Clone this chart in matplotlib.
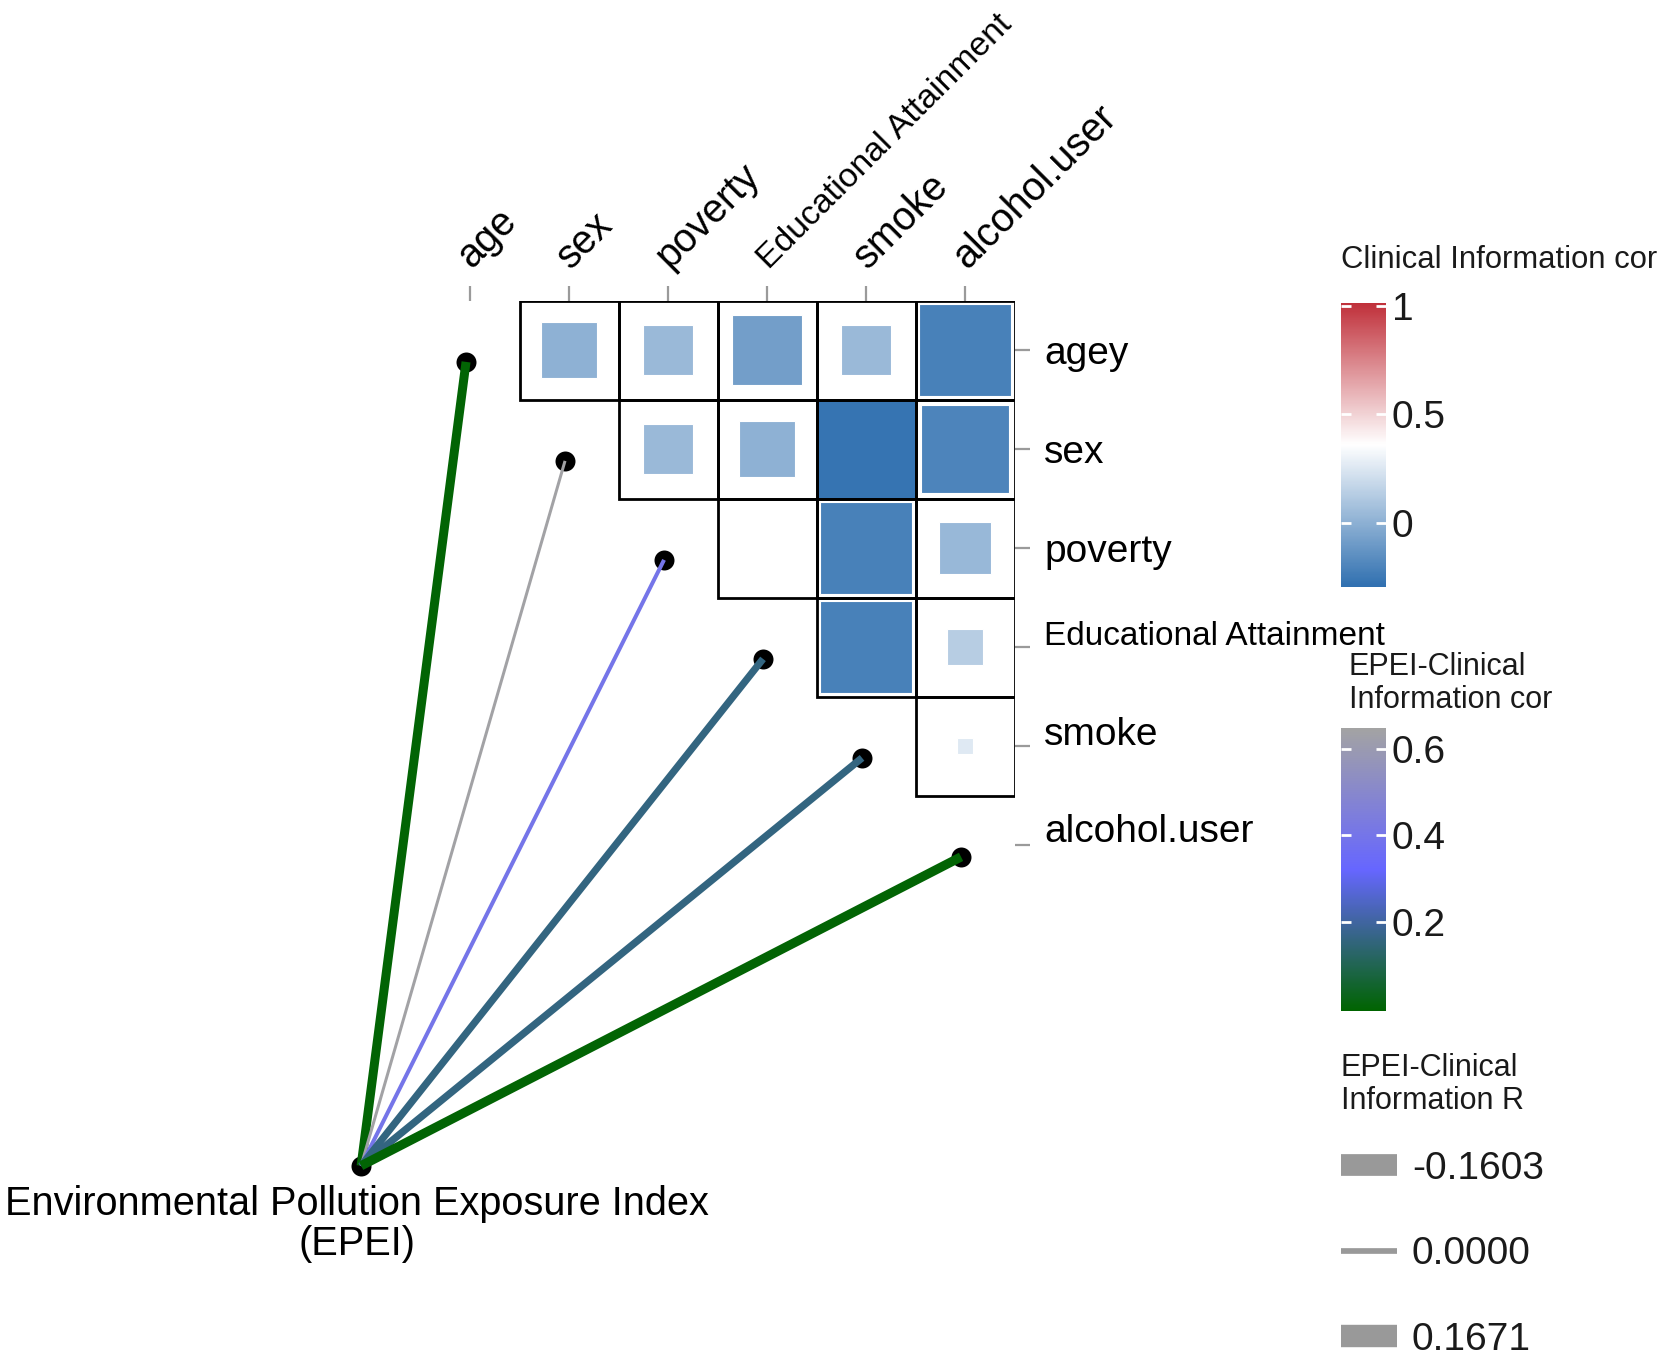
import numpy as np
import matplotlib
matplotlib.use("Agg")
import matplotlib.pyplot as plt
from matplotlib.colors import LinearSegmentedColormap, Normalize
from matplotlib.cm import ScalarMappable
from matplotlib.patches import Rectangle
from matplotlib.transforms import offset_copy

plt.rcParams["font.family"] = ["Liberation Sans", "DejaVu Sans"]

# ---- data -----------------------------------------------------------------
col_vars = ["age", "sex", "poverty", "Educational Attainment", "smoke", "alcohol.user"]
row_vars = ["agey", "sex", "poverty", "Educational Attainment", "smoke", "alcohol.user"]

# clinical information correlation, upper triangle (row index, column index)
clin_row = [0, 0, 0, 0, 0, 1, 1, 1, 1, 2, 2, 2, 3, 3, 4]
clin_col = [1, 2, 3, 4, 5, 2, 3, 4, 5, 3, 4, 5, 4, 5, 5]
clin_cor = [0.004, 0.042, -0.082, 0.042, -0.217,
            0.042, 0.004, -0.270, -0.198,
            0.360, -0.217, 0.035,
            -0.217, 0.130,
            0.260]

# EPEI -> clinical variable links
link_r = [-0.1603, 0.0, 0.027, 0.112, -0.115, 0.1671]
link_cor = [0.002, 0.640, 0.400, 0.160, 0.160, 0.002]

legend_r = [-0.1603, 0.0, 0.1671]
legend_labels = ["-0.1603", "0.0000", "0.1671"]

# ---- scales -----------------------------------------------------------------
clin_cmap = LinearSegmentedColormap.from_list("clin", ["#3070B0", "#FFFFFF", "#C0303A"])
clin_norm = Normalize(vmin=-0.295, vmax=1.015)
clin_mid = (clin_norm.vmin + clin_norm.vmax) / 2
clin_full = -0.265

link_cmap = LinearSegmentedColormap.from_list("link", ["#006400", "#6666FF", "#A3A3A3"])
link_norm = Normalize(vmin=-0.005, vmax=0.648)


def square_size(v):
    return float(np.clip((clin_mid - v) / (clin_mid - clin_full), 0, 1))


def link_width(r):
    return (3 + 37.5 * abs(r)) * 0.72


def key_width(r):
    return (5.7 + 100 * abs(r)) * 0.72


W, H = 1665, 1358
fig = plt.figure(figsize=(W / 100, H / 100), dpi=100)
txt = "#1a1a1a"

# ---- correlation grid -------------------------------------------------------
ax = fig.add_axes([420.5 / W, 1 - 894.5 / H, 594 / W, 594 / H])
ax.set_xlim(-0.5, 5.5)
ax.set_ylim(5.5, -0.5)
for s in ax.spines.values():
    s.set_visible(False)
ax.set_xticks(range(len(col_vars)))
ax.set_yticks(range(len(row_vars)))
ax.xaxis.tick_top()
ax.yaxis.tick_right()
ax.tick_params(axis="both", length=10.8, width=1.6, color="#9a9a9a",
               labeltop=False, labelright=False, labelbottom=False, labelleft=False)

for r, c, v in zip(clin_row, clin_col, clin_cor):
    s = square_size(v)
    if s > 0:
        ax.add_patch(Rectangle((c - s / 2, r - s / 2), s, s, facecolor=clin_cmap(clin_norm(v)),
                               edgecolor="white", linewidth=0.8, zorder=1))
    ax.add_patch(Rectangle((c - 0.5, r - 0.5), 1, 1, fill=False, edgecolor="black",
                           linewidth=2.0, zorder=2))

# column labels (top, rotated)
for j, name in enumerate(col_vars):
    fs = 24.3 if name == "Educational Attainment" else 28.5
    tr = offset_copy(ax.transData, fig=fig, x=2, y=31, units="dots")
    ax.text(j, -0.5, name, transform=tr, rotation=45, rotation_mode="anchor",
            ha="left", va="baseline", fontsize=fs, color="black", clip_on=False)

# row labels (right)
row_nudge = [0, 0, 0, 14, 15, 17]
for i, name in enumerate(row_vars):
    fs = 24 if name == "Educational Attainment" else 28
    tr = offset_copy(ax.transData, fig=fig, x=29.5, y=row_nudge[i], units="dots")
    ax.text(5.5, i, name, transform=tr, ha="left", va="center_baseline",
            fontsize=fs, color="black", clip_on=False)

# links from EPEI node
node = (-1.10, 8.24)
ends_x = [j - 0.04 for j in range(len(col_vars))]
ends_y = [j + 0.12 for j in range(len(col_vars))]
ax.scatter(ends_x + [node[0]], ends_y + [node[1]], s=207, color="black",
           zorder=3, clip_on=False, linewidths=0)
for ex, ey, r, p in zip(ends_x, ends_y, link_r, link_cor):
    ax.plot([node[0], ex], [node[1], ey], color=link_cmap(link_norm(p)),
            linewidth=link_width(r), solid_capstyle="butt", zorder=4, clip_on=False)

ax.annotate("Environmental Pollution Exposure Index\n(EPEI)", xy=node,
            xytext=(-3, -14), textcoords="offset points", ha="center", va="top",
            multialignment="center", linespacing=1.05, fontsize=28.6, color="black",
            annotation_clip=False)

# ---- colourbars -------------------------------------------------------------
def colourbar(top, bottom, cmap, norm, ticks, labels):
    cax = fig.add_axes([1341 / W, 1 - bottom / H, 45 / W, (bottom - top) / H])
    cb = fig.colorbar(ScalarMappable(norm=norm, cmap=cmap), cax=cax, ticks=ticks)
    cb.ax.set_yticklabels(labels)
    cb.outline.set_visible(False)
    cb.ax.tick_params(axis="y", direction="in", color="white", length=7, width=2,
                      left=True, right=True, labelcolor=txt, labelsize=28, pad=4)
    return cb


colourbar(302.7, 586.7, clin_cmap, clin_norm, [0, 0.5, 1], ["0", "0.5", "1"])
fig.text(1341 / W, 1 - 260 / H, "Clinical Information cor", fontsize=22.3,
         color=txt, ha="left", va="center")

colourbar(728, 1011, link_cmap, link_norm, [0.2, 0.4, 0.6], ["0.2", "0.4", "0.6"])
fig.text(1349 / W, 1 - 683.5 / H, "EPEI-Clinical\nInformation cor", fontsize=22,
         color=txt, ha="left", va="center", linespacing=1.15)

# ---- size legend ------------------------------------------------------------
fig.text(1341 / W, 1 - 1084.5 / H, "EPEI-Clinical\nInformation R", fontsize=22,
         color=txt, ha="left", va="center", linespacing=1.15)
lax = fig.add_axes([1341 / W, 0, 1 - 1341 / W, 238 / H])
lax.set_xlim(0, 324)
lax.set_ylim(238, 0)
lax.axis("off")
for k, (r, lab) in enumerate(zip(legend_r, legend_labels)):
    y = 45 + 85.5 * k
    lax.plot([0, 56], [y, y], color="#999999", linewidth=key_width(r),
             solid_capstyle="butt")
    lax.text(71, y, lab, fontsize=28, color=txt, ha="left", va="center_baseline")

fig.savefig("out.png", dpi=100, facecolor="white")
